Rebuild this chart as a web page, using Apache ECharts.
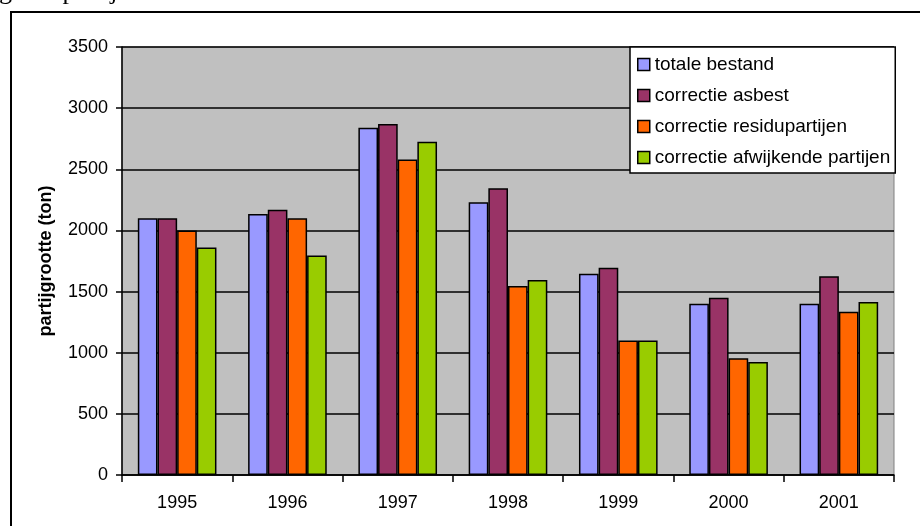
<!DOCTYPE html>
<html>
<head>
<meta charset="utf-8">
<script src="https://cdn.jsdelivr.net/npm/echarts@6/dist/echarts.min.js"></script>
<style>
  html, body { margin: 0; padding: 0; background: #fff; }
  #chart { width: 920px; height: 526px; }
</style>
</head>
<body>
<div id="chart"></div>
<script>
// jaren en reeksen
var years = ['1995', '1996', '1997', '1998', '1999', '2000', '2001'];
var totaleBestand = [2100, 2135, 2840, 2230, 1645, 1400, 1400];
var correctieAsbest = [2100, 2170, 2870, 2345, 1695, 1450, 1625];
var correctieResidu = [2000, 2100, 2580, 1545, 1100, 955, 1335];
var correctieAfwijkend = [1860, 1795, 2725, 1595, 1100, 925, 1415];
var yTicks = [0, 500, 1000, 1500, 2000, 2500, 3000, 3500];

var seriesNames = ['totale bestand', 'correctie asbest', 'correctie residupartijen', 'correctie afwijkende partijen'];
var seriesColors = ['#9999ff', '#993366', '#ff6600', '#99cc00'];
var seriesData = [totaleBestand, correctieAsbest, correctieResidu, correctieAfwijkend];

var font = '"Liberation Sans", Arial, sans-serif';

var series = seriesData.map(function (d, i) {
  return {
    name: seriesNames[i],
    type: 'bar',
    data: d,
    barGap: '0%',
    barCategoryGap: '28.7%',
    itemStyle: { color: seriesColors[i], borderColor: '#000', borderWidth: 1.5 }
  };
});

var option = {
  animation: false,
  backgroundColor: '#fff',
  // stukje van het bijschrift erboven (afgesneden) en kader
  graphic: [
    {
      type: 'text', x: -1, y: -8,
      style: {
        text: 'g van partijen', font: '26px "Liberation Serif", "Times New Roman", serif',
        fill: '#000', verticalAlign: 'middle', align: 'left'
      }
    },
    {
      type: 'rect', shape: { x: 11, y: 12, width: 1000, height: 1000 },
      style: { fill: 'none', stroke: '#000', lineWidth: 2 }
    }
  ],
  grid: {
    left: 122, right: 26, top: 47, bottom: 51,
    show: true, backgroundColor: '#c0c0c0', borderColor: '#808080', borderWidth: 1
  },
  legend: {
    orient: 'vertical',
    left: 630, top: 47,
    padding: [8, 5, 6, 7],
    icon: 'rect',
    itemWidth: 12, itemHeight: 12, itemGap: 12,
    backgroundColor: '#fff', borderColor: '#000', borderWidth: 1.5,
    textStyle: { fontFamily: font, fontSize: 19, color: '#000' },
    itemStyle: { borderColor: '#000', borderWidth: 1.5 },
    data: seriesNames
  },
  xAxis: {
    type: 'category',
    data: years,
    axisLine: { lineStyle: { color: '#000', width: 1.5 } },
    axisTick: { show: true, length: 7, lineStyle: { color: '#000', width: 1.5 } },
    axisLabel: { fontFamily: font, fontSize: 18, color: '#000', margin: 19 }
  },
  yAxis: {
    type: 'value',
    min: yTicks[0], max: yTicks[yTicks.length - 1], interval: 500,
    name: 'partijgrootte (ton)',
    nameLocation: 'middle',
    nameGap: 67,
    nameTextStyle: { fontFamily: font, fontSize: 18, fontWeight: 'bold', color: '#000' },
    axisLine: { show: true, lineStyle: { color: '#000', width: 1.5 } },
    axisTick: { show: true, length: 6, lineStyle: { color: '#000', width: 1.5 } },
    axisLabel: {
      fontFamily: font, fontSize: 18, color: '#000', margin: 14,
      formatter: function (v) { return String(v); }
    },
    splitLine: { lineStyle: { color: '#000', width: 1.5 } }
  },
  series: series
};

var chart = echarts.init(document.getElementById('chart'), null, { renderer: 'canvas' });
chart.setOption(option);
</script>
</body>
</html>
